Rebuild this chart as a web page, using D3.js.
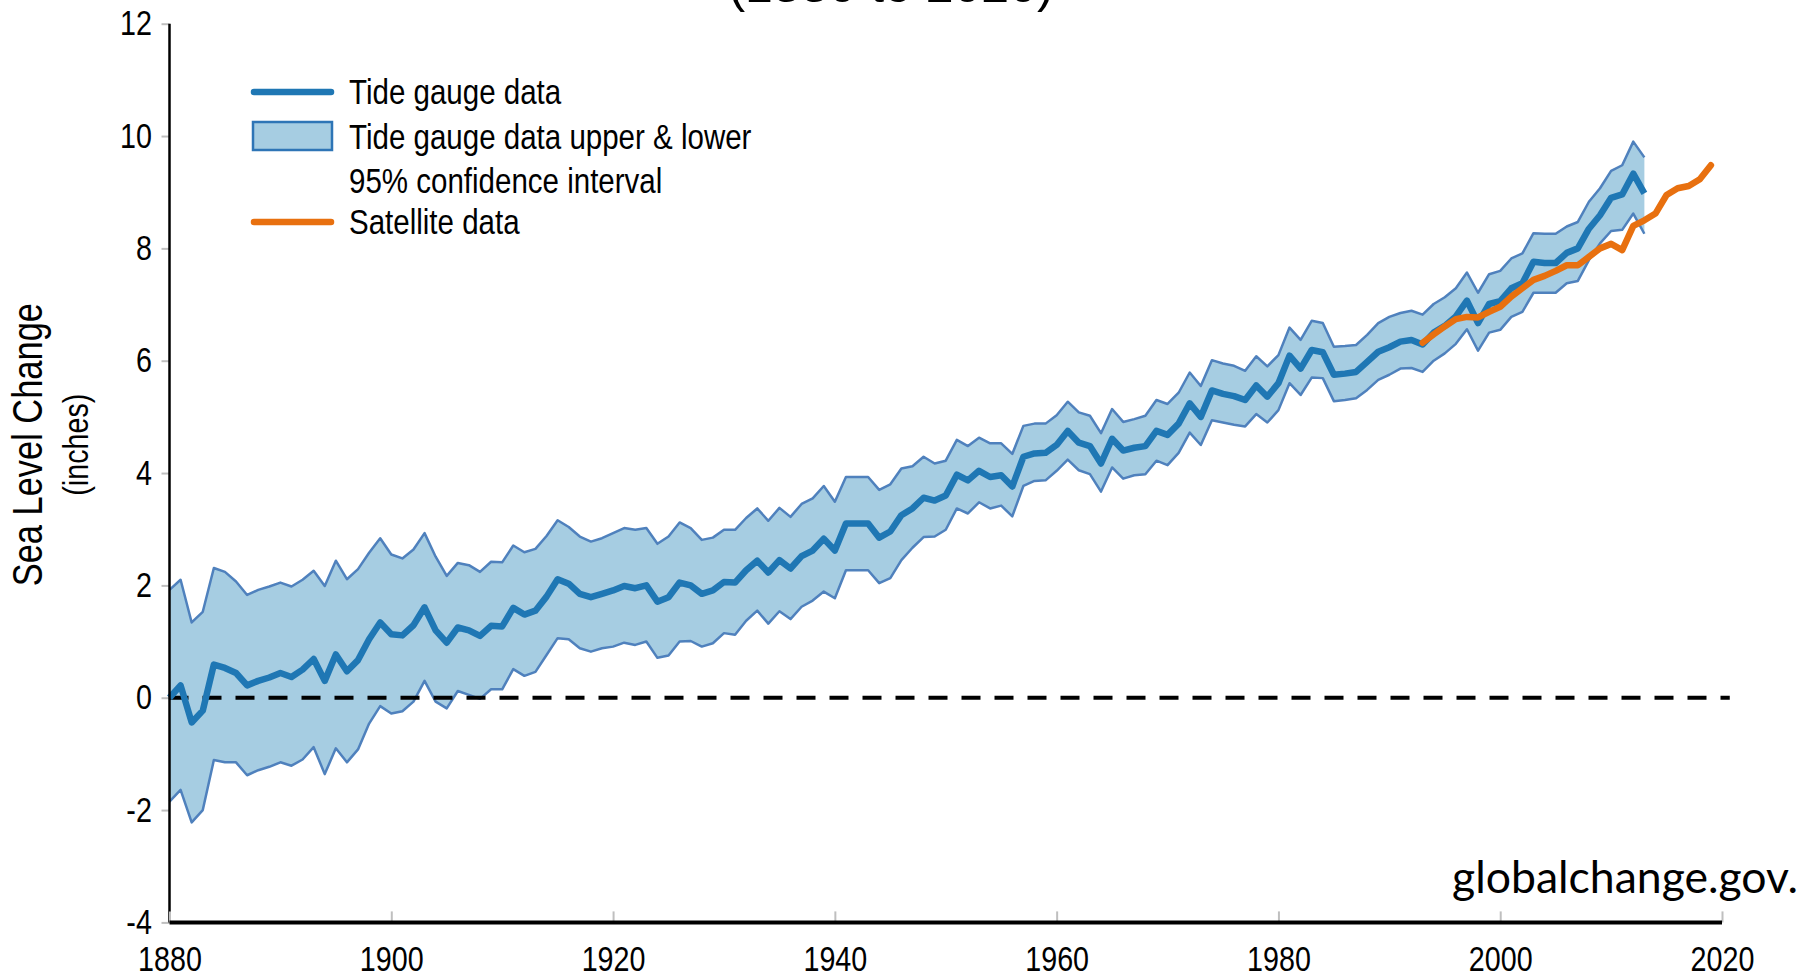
<!DOCTYPE html>
<html>
<head>
<meta charset="utf-8">
<script src="https://cdn.jsdelivr.net/npm/d3@7/dist/d3.min.js"></script>
<style>
  html, body { margin: 0; padding: 0; background: #fff; }
  svg { display: block; }
  .narrow { font-family: "Liberation Sans", Arial, sans-serif; }
</style>
</head>
<body>
<svg id="chart" width="1811" height="980"></svg>
<script>
// ---------------- DATA ----------------
const tideYears = [1880,1881,1882,1883,1884,1885,1886,1887,1888,1889,
  1890,1891,1892,1893,1894,1895,1896,1897,1898,1899,
  1900,1901,1902,1903,1904,1905,1906,1907,1908,1909,
  1910,1911,1912,1913,1914,1915,1916,1917,1918,1919,
  1920,1921,1922,1923,1924,1925,1926,1927,1928,1929,
  1930,1931,1932,1933,1934,1935,1936,1937,1938,1939,
  1940,1941,1942,1943,1944,1945,1946,1947,1948,1949,
  1950,1951,1952,1953,1954,1955,1956,1957,1958,1959,
  1960,1961,1962,1963,1964,1965,1966,1967,1968,1969,
  1970,1971,1972,1973,1974,1975,1976,1977,1978,1979,
  1980,1981,1982,1983,1984,1985,1986,1987,1988,1989,
  1990,1991,1992,1993,1994,1995,1996,1997,1998,1999,
  2000,2001,2002,2003,2004,2005,2006,2007,2008,2009,
  2010,2011,2012,2013];

const tideLevel = [0.00,0.22,-0.44,-0.23,0.59,0.53,0.44,0.22,0.30,0.36,
  0.44,0.37,0.50,0.69,0.30,0.77,0.47,0.67,1.04,1.34,
  1.13,1.11,1.29,1.61,1.20,0.98,1.25,1.20,1.10,1.28,
  1.27,1.60,1.48,1.55,1.80,2.11,2.03,1.85,1.79,1.85,
  1.91,1.99,1.95,2.00,1.71,1.79,2.05,2.00,1.85,1.91,
  2.06,2.05,2.27,2.44,2.23,2.45,2.30,2.52,2.62,2.83,
  2.62,3.10,3.10,3.10,2.85,2.96,3.25,3.37,3.56,3.51,
  3.60,3.97,3.87,4.04,3.93,3.96,3.76,4.29,4.35,4.36,
  4.50,4.75,4.54,4.48,4.17,4.61,4.40,4.45,4.48,4.75,
  4.68,4.88,5.24,5.00,5.47,5.41,5.37,5.30,5.56,5.36,
  5.60,6.09,5.86,6.19,6.15,5.75,5.77,5.80,5.98,6.16,
  6.24,6.34,6.37,6.29,6.50,6.62,6.79,7.07,6.67,7.01,
  7.06,7.29,7.38,7.76,7.74,7.74,7.92,8.00,8.35,8.59,
  8.90,8.96,9.33,8.98];

const tideUpper = [1.92,2.10,1.34,1.53,2.31,2.24,2.07,1.83,1.92,1.98,
  2.05,1.98,2.10,2.26,1.99,2.44,2.11,2.29,2.58,2.84,
  2.55,2.48,2.64,2.93,2.51,2.17,2.40,2.36,2.24,2.42,
  2.41,2.71,2.59,2.65,2.88,3.16,3.04,2.87,2.78,2.84,
  2.93,3.02,2.99,3.02,2.74,2.87,3.12,3.02,2.81,2.85,
  2.99,2.99,3.20,3.37,3.15,3.38,3.22,3.45,3.55,3.77,
  3.49,3.93,3.93,3.93,3.70,3.80,4.08,4.12,4.29,4.17,
  4.22,4.59,4.48,4.63,4.53,4.53,4.34,4.84,4.88,4.88,
  5.03,5.27,5.08,5.02,4.71,5.14,4.91,4.96,5.02,5.30,
  5.23,5.43,5.79,5.55,6.01,5.95,5.91,5.82,6.08,5.90,
  6.10,6.59,6.37,6.71,6.67,6.25,6.26,6.28,6.46,6.67,
  6.78,6.85,6.89,6.82,7.01,7.13,7.29,7.57,7.21,7.54,
  7.60,7.82,7.91,8.27,8.26,8.26,8.39,8.47,8.83,9.07,
  9.38,9.48,9.90,9.62];

const tideLower = [-1.85,-1.64,-2.22,-2.00,-1.11,-1.15,-1.15,-1.38,-1.29,-1.23,
  -1.15,-1.21,-1.10,-0.88,-1.36,-0.90,-1.15,-0.92,-0.46,-0.15,
  -0.28,-0.24,-0.07,0.30,-0.07,-0.19,0.12,0.05,-0.02,0.15,
  0.15,0.51,0.39,0.46,0.76,1.06,1.04,0.88,0.82,0.88,
  0.91,0.98,0.94,1.00,0.71,0.75,1.00,1.01,0.91,0.97,
  1.15,1.12,1.37,1.55,1.32,1.54,1.40,1.62,1.73,1.89,
  1.77,2.27,2.27,2.27,2.04,2.13,2.45,2.67,2.86,2.87,
  2.99,3.37,3.28,3.48,3.37,3.42,3.23,3.77,3.86,3.87,
  4.04,4.24,4.05,3.98,3.67,4.10,3.90,3.96,3.98,4.22,
  4.14,4.36,4.72,4.50,4.94,4.90,4.86,4.83,5.05,4.90,
  5.12,5.60,5.39,5.70,5.69,5.28,5.30,5.33,5.48,5.66,
  5.75,5.86,5.87,5.80,6.00,6.13,6.30,6.56,6.18,6.50,
  6.55,6.78,6.87,7.21,7.21,7.21,7.38,7.42,7.79,8.09,
  8.31,8.33,8.62,8.26];

const satYears = [1993,1994,1995,1996,1997,1998,1999,2000,2001,2002,
  2003,2004,2005,2006,2007,2008,2009,2010,2011,2012,
  2013,2014,2015,2016,2017,2018,2019];
const satLevel = [6.32,6.47,6.61,6.74,6.78,6.77,6.87,6.96,7.14,7.29,
  7.44,7.51,7.60,7.70,7.70,7.85,8.00,8.08,7.97,8.40,
  8.50,8.62,8.95,9.07,9.11,9.23,9.48];

const yTicks = [-4,-2,0,2,4,6,8,10,12];
const xTicks = [1880,1900,1920,1940,1960,1980,2000,2020];
const legendLabels = ["Tide gauge data", "Tide gauge data upper & lower", "95% confidence interval", "Satellite data"];
const yLabel = "Sea Level Change";
const yUnits = "(inches)";
const titleText = "(1880 to 2020)";
const sourceText = "globalchange.gov.";

// ---------------- STYLE ----------------
const C = {
  band: "#a6cde2",
  bandStroke: "#4f81bd",
  tide: "#1f77b4",
  sat: "#e8700f",
  tick: "#bfbfbf"
};
const SX = 0.82; // horizontal condensing of the chart's narrow type

const svg = d3.select("#chart");
const x = d3.scaleLinear().domain([1880, 2020]).range([169.5, 1722]);
const y = d3.scaleLinear().domain([-4, 12]).range([922.4, 23.7]);

const tide = tideYears.map((yr, i) => ({yr, v: tideLevel[i], hi: tideUpper[i], lo: tideLower[i]}));
const sat = satYears.map((yr, i) => ({yr, v: satLevel[i]}));

function narrowText(px, py, size, txt, extra) {
  return svg.append("text").attr("class", "narrow")
    .attr("transform", `translate(${px},${py}) ${extra || ""} scale(${SX},1)`)
    .attr("font-size", size).attr("fill", "#000").text(txt);
}

// title (cut off at top, as in the source figure)
svg.append("text").attr("class", "narrow")
  .attr("x", 891).attr("y", 2)
  .attr("text-anchor", "middle")
  .attr("font-size", 50)
  .attr("fill", "#000")
  .text(titleText);

// band
svg.append("path")
  .datum(tide)
  .attr("fill", C.band)
  .attr("d", d3.area().x(d => x(d.yr)).y0(d => y(d.lo)).y1(d => y(d.hi)));
svg.append("path").datum(tide)
  .attr("fill", "none").attr("stroke", C.bandStroke).attr("stroke-width", 2.5)
  .attr("stroke-linejoin", "round")
  .attr("d", d3.line().x(d => x(d.yr)).y(d => y(d.hi)));
svg.append("path").datum(tide)
  .attr("fill", "none").attr("stroke", C.bandStroke).attr("stroke-width", 2.5)
  .attr("stroke-linejoin", "round")
  .attr("d", d3.line().x(d => x(d.yr)).y(d => y(d.lo)));

// zero dashed line
svg.append("line")
  .attr("x1", x(1880)).attr("x2", x(2020.7))
  .attr("y1", y(0)).attr("y2", y(0))
  .attr("stroke", "#000").attr("stroke-width", 4)
  .attr("stroke-dasharray", "19 14");

// tide gauge line
svg.append("path").datum(tide)
  .attr("fill", "none").attr("stroke", C.tide).attr("stroke-width", 6.5)
  .attr("stroke-linejoin", "round")
  .attr("d", d3.line().x(d => x(d.yr)).y(d => y(d.v)));

// satellite line
svg.append("path").datum(sat)
  .attr("fill", "none").attr("stroke", C.sat).attr("stroke-width", 6.5)
  .attr("stroke-linejoin", "round").attr("stroke-linecap", "round")
  .attr("d", d3.line().x(d => x(d.yr)).y(d => y(d.v)));

// Y axis
const yAxis = d3.axisLeft(y).tickValues(yTicks).tickSize(8).tickPadding(13.5).tickFormat(d => String(d));
const gy = svg.append("g").attr("transform", `translate(${x(1880)},0)`).call(yAxis);
gy.select(".domain").remove();
gy.selectAll(".tick line").attr("stroke", C.tick).attr("stroke-width", 2);
gy.selectAll(".tick text").attr("class", "narrow").attr("font-size", 35).attr("fill", "#000")
  .attr("transform", `scale(${SX},1)`);
svg.append("line").attr("x1", x(1880)).attr("x2", x(1880))
  .attr("y1", y(12)).attr("y2", y(-4)).attr("stroke", "#000").attr("stroke-width", 2.5);

// X axis
const xAxis = d3.axisBottom(x).tickValues(xTicks).tickSize(-11).tickPadding(24).tickFormat(d => String(d));
const gx = svg.append("g").attr("transform", `translate(0,${y(-4)})`).call(xAxis);
gx.select(".domain").remove();
gx.selectAll(".tick line").attr("stroke", C.tick).attr("stroke-width", 2);
gx.selectAll(".tick text").attr("class", "narrow").attr("font-size", 35).attr("fill", "#000")
  .attr("transform", `scale(${SX},1)`);
svg.append("line").attr("x1", x(1880)).attr("x2", x(2020))
  .attr("y1", y(-4)).attr("y2", y(-4)).attr("stroke", "#000").attr("stroke-width", 4);

// Axis title
narrowText(42, 385 * 1.155, 42, yLabel, "rotate(-90)").attr("text-anchor", "middle");
narrowText(88, 385 * 1.155, 35, yUnits, "rotate(-90)").attr("text-anchor", "middle");

// Legend
const lg = svg.append("g");
lg.append("line").attr("x1", 254).attr("x2", 331).attr("y1", 92).attr("y2", 92)
  .attr("stroke", C.tide).attr("stroke-width", 6.5).attr("stroke-linecap", "round");
lg.append("rect").attr("x", 253).attr("y", 122).attr("width", 79).attr("height", 28)
  .attr("fill", C.band).attr("stroke", "#2e75b6").attr("stroke-width", 2.5);
lg.append("line").attr("x1", 254).attr("x2", 331).attr("y1", 222).attr("y2", 222)
  .attr("stroke", C.sat).attr("stroke-width", 6.5).attr("stroke-linecap", "round");
const legendY = [104, 149, 193, 234];
legendLabels.forEach((t, i) => narrowText(349, legendY[i], 36, t));

// Source
svg.append("text")
  .attr("x", 1452).attr("y", 893)
  .attr("font-family", "Lato, 'Open Sans', sans-serif")
  .attr("font-size", 45).attr("fill", "#000")
  .attr("textLength", 346).attr("lengthAdjust", "spacingAndGlyphs")
  .text(sourceText);
</script>
</body>
</html>
